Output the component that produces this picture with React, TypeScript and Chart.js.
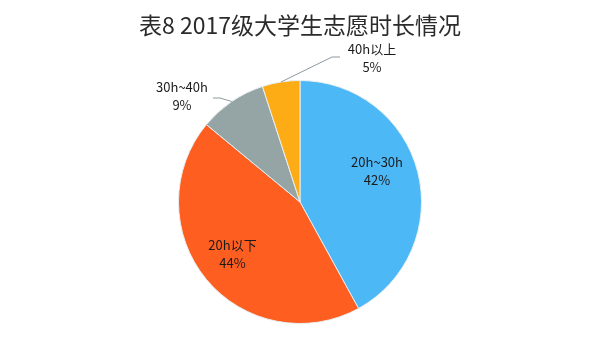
import React, { useEffect, useRef } from "react";
import { Chart, registerables } from "chart.js";

Chart.register(...registerables);

const titleText = "表8 2017级大学生志愿时长情况";
const categories = ["20h~30h", "20h以下", "30h~40h", "40h以上"];
const values = [42, 44, 9, 5];
const sliceColors = ["#4db8f6", "#fe5e20", "#95a5a6", "#fdac16"];

const FONT = '"Noto Sans CJK SC", "Noto Sans", sans-serif';

// label placement (layout only)
const labelLayout: any[] = [
  { inside: true, radius: 0.68, dx: -3, dy: -10 },
  { inside: true, radius: 0.7, dx: -2, dy: -2 },
  { inside: false, elbow: [-80, -104], end: [-87, -104], label: [-118, -106] },
  { inside: false, elbow: [32, -145], end: [40, -145], label: [72, -144] },
];

const labelPlugin = {
  id: "pieLabels",
  afterDatasetsDraw(chart: any) {
    const ctx = chart.ctx;
    const meta = chart.getDatasetMeta(0);
    const total = values.reduce((a, b) => a + b, 0);
    ctx.save();
    ctx.font = `13px ${FONT}`;
    ctx.fillStyle = "#1b1b1b";
    ctx.textAlign = "center";
    ctx.textBaseline = "middle";
    meta.data.forEach((arc: any, i: number) => {
      const p = arc.getProps(["x", "y", "startAngle", "endAngle", "outerRadius"], true);
      const mid = (p.startAngle + p.endAngle) / 2;
      const pct = Math.round((values[i] / total) * 100) + "%";
      const L = labelLayout[i];
      let lx: number, ly: number;
      if (L.inside) {
        lx = p.x + Math.cos(mid) * p.outerRadius * L.radius + L.dx;
        ly = p.y + Math.sin(mid) * p.outerRadius * L.radius + L.dy;
      } else {
        const sx = p.x + Math.cos(mid) * p.outerRadius;
        const sy = p.y + Math.sin(mid) * p.outerRadius;
        ctx.beginPath();
        ctx.strokeStyle = "#8c9a9e";
        ctx.lineWidth = 1;
        ctx.moveTo(sx, sy);
        ctx.lineTo(p.x + L.elbow[0], p.y + L.elbow[1]);
        ctx.lineTo(p.x + L.end[0], p.y + L.end[1]);
        ctx.stroke();
        lx = p.x + L.label[0];
        ly = p.y + L.label[1];
      }
      ctx.fillText(categories[i], lx, ly - 9);
      ctx.fillText(pct, lx, ly + 9);
    });
    ctx.restore();
  },
};

export default function App() {
  const ref = useRef<HTMLCanvasElement>(null);
  useEffect(() => {
    if (!ref.current) return;
    const chart = new Chart(ref.current, {
      type: "pie",
      data: {
        labels: categories,
        datasets: [
          {
            data: values,
            backgroundColor: sliceColors,
            borderColor: "#e8eef0",
            borderWidth: 1,
          },
        ],
      },
      options: {
        animation: false,
        responsive: false,
        maintainAspectRatio: false,
        layout: { padding: { top: 0, bottom: 36, left: 0, right: 0 } },
        plugins: {
          legend: { display: false },
          tooltip: { enabled: false },
          title: {
            display: true,
            text: titleText,
            color: "#2b2b2b",
            font: { family: FONT, size: 23, weight: "normal", lineHeight: 1.2 },
            padding: { top: 11, bottom: 41.4 },
          },
        },
      },
      plugins: [labelPlugin],
    });
    return () => chart.destroy();
  }, []);
  return (
    <div style={{ position: "fixed", left: 0, top: 0, width: 600, height: 360, background: "#fff" }}>
      <canvas ref={ref} width={600} height={360} style={{ width: 600, height: 360 }} />
    </div>
  );
}
